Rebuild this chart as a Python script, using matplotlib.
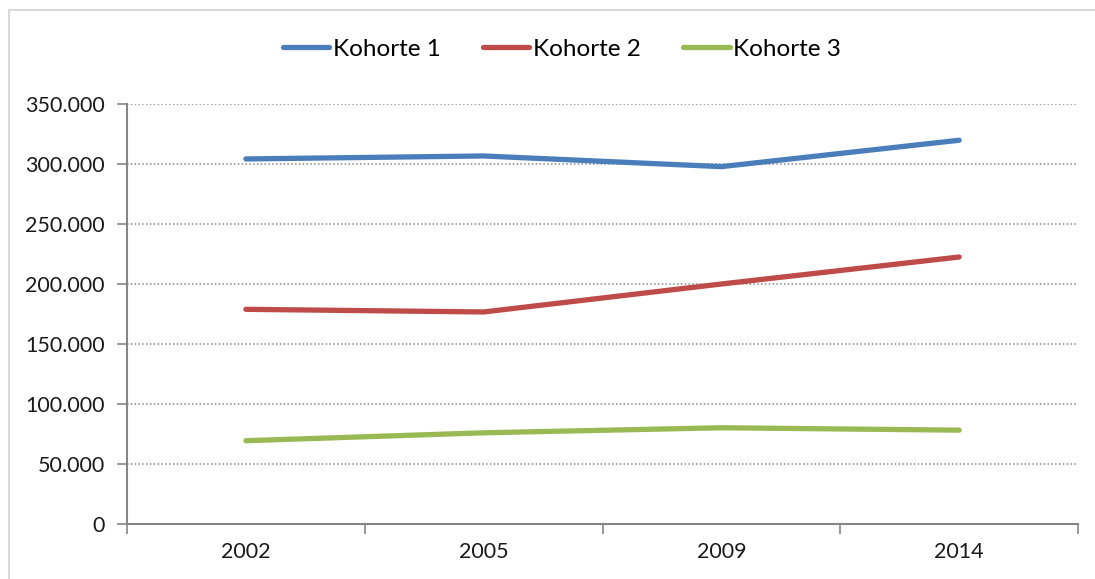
import matplotlib
matplotlib.use("Agg")
import matplotlib.pyplot as plt
from matplotlib.lines import Line2D
from matplotlib.ticker import FuncFormatter

years = ["2002", "2005", "2009", "2014"]
kohorte_1 = [304200, 306700, 297800, 319800]
kohorte_2 = [178900, 176700, 200000, 222500]
kohorte_3 = [69400, 76000, 80200, 78200]
series_names = ["Kohorte 1", "Kohorte 2", "Kohorte 3"]
colors = ["#4A7EBB", "#BE4B48", "#98B954"]

plt.rcParams["font.family"] = ["Lato", "DejaVu Sans"]
axis_grey = "#868686"

fig = plt.figure(figsize=(10.95, 5.79), dpi=100)
ax = fig.add_axes([127 / 1095, 55 / 579, (1078 - 127) / 1095, (524 - 104) / 579])

x = list(range(len(years)))
for vals, name, c in zip([kohorte_1, kohorte_2, kohorte_3], series_names, colors):
    ax.plot(x, vals, color=c, lw=3.8, solid_capstyle="round",
            solid_joinstyle="round", label=name, zorder=3)

ax.set_xlim(-0.5, len(years) - 0.5)
ax.set_ylim(0, 350000)
ax.set_yticks(range(0, 350001, 50000))
ax.yaxis.set_major_formatter(FuncFormatter(lambda v, p: f"{int(v):,}".replace(",", ".")))

# category axis: ticks between categories, labels centred
ax.set_xticks([i - 0.5 for i in range(len(years) + 1)])
ax.set_xticklabels([])
ax.set_xticks(x, minor=True)
ax.set_xticklabels(years, minor=True)
ax.tick_params(axis="x", which="major", length=7, width=1.2, color=axis_grey, direction="out")
ax.tick_params(axis="x", which="minor", length=0, pad=13, labelsize=15.5, labelcolor="#1a1a1a")
ax.tick_params(axis="y", length=7, width=1.2, color=axis_grey, direction="out",
               pad=9, labelsize=15.5, labelcolor="#1a1a1a")

ax.yaxis.grid(True, linestyle=(0, (1, 1.5)), color=axis_grey, lw=1.1)
ax.set_axisbelow(True)
for s in ["top", "right"]:
    ax.spines[s].set_visible(False)
for s in ["left", "bottom"]:
    ax.spines[s].set_color(axis_grey)
    ax.spines[s].set_linewidth(1.5)

fig.legend(loc="center", bbox_to_anchor=(562 / 1095, 1 - 49 / 579), ncol=3,
           frameon=False, fontsize=17.5, handlelength=1.9, handletextpad=0.15,
           columnspacing=1.75)

# chart frame (only top and left edges visible in the crop)
fig.add_artist(Line2D([9 / 1095, 9 / 1095], [0, 1 - 10 / 579], color="#D9D9D9", lw=1.5))
fig.add_artist(Line2D([9 / 1095, 1], [1 - 10 / 579, 1 - 10 / 579], color="#D9D9D9", lw=1.5))

fig.savefig("out.png", dpi=100)
